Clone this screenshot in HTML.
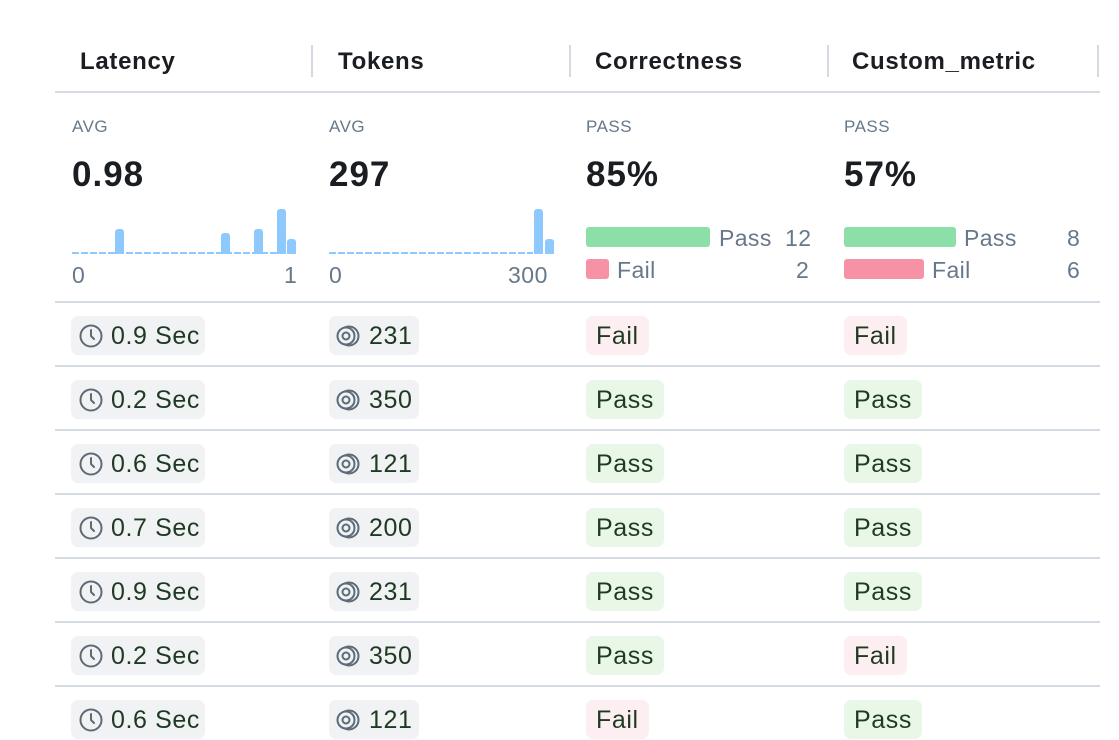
<!DOCTYPE html>
<html><head><meta charset="utf-8"><style>
*{margin:0;padding:0;box-sizing:border-box}
body{width:1119px;height:705px;overflow:hidden;background:#fff;font-family:"Liberation Sans",sans-serif;position:relative}
.a{position:absolute}
.h{font-size:24px;font-weight:bold;color:#1a1d21;top:48px;letter-spacing:0.7px}
.sep{width:2px;height:32px;background:#d3dae2;top:45px}
.hl{height:2px;background:#d3dae2;left:55px;width:1045px}
.lab{font-size:17px;color:#66788a;top:117px;letter-spacing:0.5px}
.big{font-size:35px;font-weight:bold;color:#1a1d21;top:155px;letter-spacing:1px}
.ax{font-size:23px;color:#66788a;top:262px;letter-spacing:0.5px}
.bar{background:#8ec9fd;border-radius:3px 3px 0 0}
.dash{height:2px;background-image:linear-gradient(90deg,#8ec9fd 0 7px,transparent 7px 9px);background-size:9px 2px}
.lg{font-size:23px;color:#66788a;letter-spacing:0.4px}
.pill{height:39px;border-radius:7px;font-size:25px;color:#1f3a22;line-height:40px;padding:0 10px;white-space:nowrap;letter-spacing:0.6px}
.g{background:#f1f2f4}
.ps{background:#e9f7e8}
.fl{background:#fdeef2}
svg{vertical-align:-4px;margin-right:8px}
</style></head><body>
<div class="a h" style="left:80px">Latency</div>
<div class="a h" style="left:338px">Tokens</div>
<div class="a h" style="left:595px">Correctness</div>
<div class="a h" style="left:852px">Custom_metric</div>
<div class="a sep" style="left:311px"></div>
<div class="a sep" style="left:569px"></div>
<div class="a sep" style="left:827px"></div>
<div class="a sep" style="left:1097px"></div>
<div class="a hl" style="top:91px"></div>

<div class="a lab" style="left:72px">AVG</div>
<div class="a lab" style="left:329px">AVG</div>
<div class="a lab" style="left:586px">PASS</div>
<div class="a lab" style="left:844px">PASS</div>
<div class="a big" style="left:72px">0.98</div>
<div class="a big" style="left:329px">297</div>
<div class="a big" style="left:586px">85%</div>
<div class="a big" style="left:844px">57%</div>

<div class="a dash" style="left:72px;top:252px;width:224px"></div>
<div class="a bar" style="left:115px;top:229px;width:9px;height:25px"></div>
<div class="a bar" style="left:221px;top:233px;width:9px;height:21px"></div>
<div class="a bar" style="left:254px;top:229px;width:9px;height:25px"></div>
<div class="a bar" style="left:277px;top:209px;width:9px;height:45px"></div>
<div class="a bar" style="left:287px;top:239px;width:9px;height:15px"></div>
<div class="a ax" style="left:72px">0</div>
<div class="a ax" style="left:284px">1</div>

<div class="a dash" style="left:329px;top:252px;width:204px"></div>
<div class="a bar" style="left:534px;top:209px;width:9px;height:45px"></div>
<div class="a bar" style="left:545px;top:239px;width:9px;height:15px"></div>
<div class="a ax" style="left:329px">0</div>
<div class="a ax" style="left:508px">300</div>

<div class="a" style="left:586px;top:227px;width:124px;height:20px;background:#8ddfa8;border-radius:3px"></div>
<div class="a lg" style="left:719px;top:225px">Pass</div>
<div class="a lg" style="left:785px;top:225px">12</div>
<div class="a" style="left:586px;top:259px;width:23px;height:20px;background:#f792a6;border-radius:3px"></div>
<div class="a lg" style="left:617px;top:257px">Fail</div>
<div class="a lg" style="left:796px;top:257px">2</div>

<div class="a" style="left:844px;top:227px;width:112px;height:20px;background:#8ddfa8;border-radius:3px"></div>
<div class="a lg" style="left:964px;top:225px">Pass</div>
<div class="a lg" style="left:1067px;top:225px">8</div>
<div class="a" style="left:844px;top:259px;width:80px;height:20px;background:#f792a6;border-radius:3px"></div>
<div class="a lg" style="left:932px;top:257px">Fail</div>
<div class="a lg" style="left:1067px;top:257px">6</div>

<div class="a hl" style="top:301px"></div>
<div class="a hl" style="top:365px"></div>
<div class="a hl" style="top:429px"></div>
<div class="a hl" style="top:493px"></div>
<div class="a hl" style="top:557px"></div>
<div class="a hl" style="top:621px"></div>
<div class="a hl" style="top:685px"></div>

<div id="rows"></div>
<script>
var clk='<svg width="24" height="24" viewBox="0 0 24 24"><circle cx="12" cy="12" r="10.5" fill="none" stroke="#5d6b79" stroke-width="2"/><path d="M12 6v6l3 3" fill="none" stroke="#5d6b79" stroke-width="2" stroke-linecap="round"/></svg>';
var tok='<svg width="26" height="24" viewBox="0 0 26 24"><circle cx="14" cy="12" r="9.5" fill="none" stroke="#5d6b79" stroke-width="2"/><circle cx="11" cy="12" r="8.5" fill="#f1f2f4" stroke="#5d6b79" stroke-width="2"/><circle cx="11" cy="12" r="3.5" fill="none" stroke="#5d6b79" stroke-width="2"/></svg>';
var L=['0.9','0.2','0.6','0.7','0.9','0.2','0.6'],T=['231','350','121','200','231','350','121'],
C=['Fail','Pass','Pass','Pass','Pass','Pass','Fail'],M=['Fail','Pass','Pass','Pass','Pass','Fail','Pass'];
var h='';
for(var i=0;i<7;i++){var y=316+64*i;
h+='<div class="a pill g" style="left:71px;top:'+y+'px;padding:0 5px 0 8px">'+clk+L[i]+' Sec</div>';
h+='<div class="a pill g" style="left:329px;top:'+y+'px;padding:0 6px 0 6px">'+tok+T[i]+'</div>';
h+='<div class="a pill '+(C[i]=='Pass'?'ps':'fl')+'" style="left:586px;top:'+y+'px">'+C[i]+'</div>';
h+='<div class="a pill '+(M[i]=='Pass'?'ps':'fl')+'" style="left:844px;top:'+y+'px">'+M[i]+'</div>';}
document.getElementById('rows').innerHTML=h;
</script>
</body></html>
